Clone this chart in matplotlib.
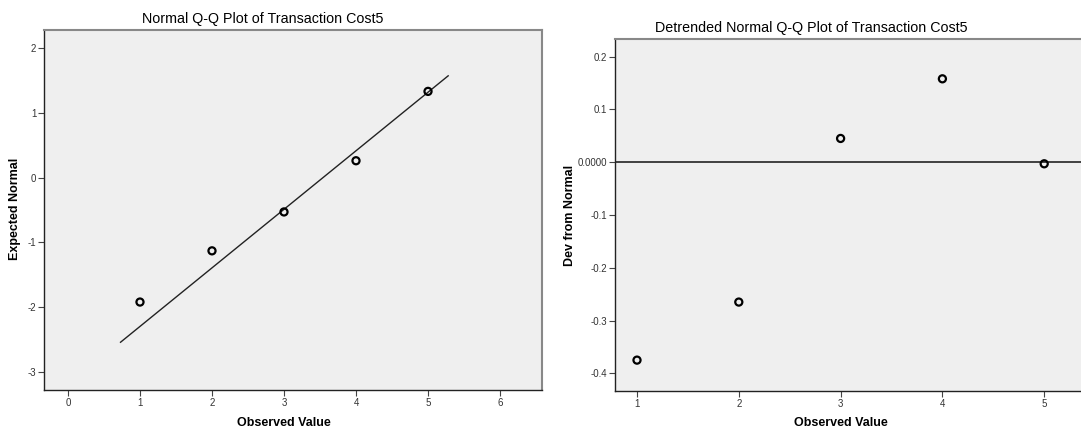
import matplotlib
matplotlib.use("Agg")
import matplotlib.pyplot as plt
import numpy as np

plt.rcParams['font.family'] = ['Liberation Sans', 'DejaVu Sans']
plt.rcParams['axes.unicode_minus'] = False

# Data
observed = [1, 2, 3, 4, 5]
expected_normal = [-1.92, -1.13, -0.53, 0.26, 1.33]
line_x = [0.73, 5.28]
line_y = [-2.54, 1.57]
detrended_dev = [-0.375, -0.265, 0.045, 0.158, -0.003]

left_xticks = [0, 1, 2, 3, 4, 5, 6]
left_yticks = [-3, -2, -1, 0, 1, 2]
right_xticks = [1, 2, 3, 4, 5]
right_yticks = [-0.4, -0.3, -0.2, -0.1, 0.0, 0.1, 0.2]
right_ylabels = ['-0.4', '-0.3', '-0.2', '-0.1', '0.0000', '0.1', '0.2']

W, H = 1081, 432
fig = plt.figure(figsize=(W / 100, H / 100), dpi=100)
fig.patch.set_facecolor('white')

def box(l, t, r, b):
    return [l / W, 1 - b / H, (r - l) / W, (b - t) / H]

bg = '#EFEFEF'
tick_col = '#333333'

def style(ax):
    ax.set_facecolor(bg)
    for s in ['left', 'bottom']:
        ax.spines[s].set_color('#222222')
        ax.spines[s].set_linewidth(1.0)
    for s in ['top', 'right']:
        ax.spines[s].set_color('#888888')
        ax.spines[s].set_linewidth(1.5)
    ax.tick_params(direction='out', length=4, width=0.8, colors='#444444',
                   labelsize=7, labelcolor=tick_col, pad=1.5)

# Left panel
ax1 = fig.add_axes(box(44, 30, 542, 390))
style(ax1)
ax1.plot(line_x, line_y, color='#222222', lw=1.0)
ax1.scatter(observed, expected_normal, s=26, facecolors='none',
            edgecolors='black', linewidths=1.6, zorder=3)
ax1.set_xlim(-0.333, 6.583)
ax1.set_ylim(-3.277, 2.277)
ax1.set_xticks(left_xticks)
ax1.set_yticks(left_yticks)
fig.text(263 / W, 1 - 19 / H, 'Normal Q-Q Plot of Transaction Cost5',
         ha='center', va='center', fontsize=10.3)
fig.text(284 / W, 1 - 423 / H, 'Observed Value', ha='center', va='center',
         fontsize=9, fontweight='bold')
fig.text(15 / W, 1 - 209 / H, 'Expected Normal', ha='center', va='center',
         rotation=90, fontsize=9, fontweight='bold')

# Right panel
ax2 = fig.add_axes(box(615, 38.7, 1085, 391))
style(ax2)
ax2.axhline(0, color='#333333', lw=1.3)
ax2.scatter(observed, detrended_dev, s=26, facecolors='none',
            edgecolors='black', linewidths=1.6, zorder=3)
ax2.set_xlim(1 - 22 / 101.8, 1 + (1085 - 637) / 101.8)
ax2.set_ylim(-0.4335, 0.234)
ax2.set_xticks(right_xticks)
ax2.set_yticks(right_yticks)
ax2.set_yticklabels(right_ylabels)
fig.text(811 / W, 1 - 28 / H, 'Detrended Normal Q-Q Plot of Transaction Cost5',
         ha='center', va='center', fontsize=10.3)
fig.text(841 / W, 1 - 423 / H, 'Observed Value', ha='center', va='center',
         fontsize=9, fontweight='bold')
fig.text(570 / W, 1 - 215 / H, 'Dev from Normal', ha='center', va='center',
         rotation=90, fontsize=9, fontweight='bold')

fig.savefig('out.png', dpi=100, facecolor='white')
